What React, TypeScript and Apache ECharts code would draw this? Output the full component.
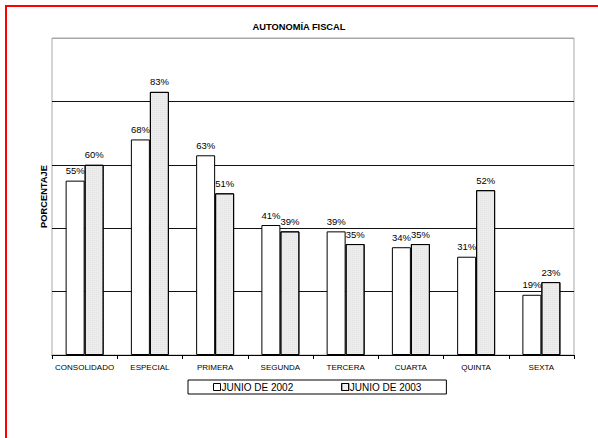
import React, { useEffect, useRef } from "react";
import * as echarts from "echarts";

const categories = ["CONSOLIDADO", "ESPECIAL", "PRIMERA", "SEGUNDA", "TERCERA", "CUARTA", "QUINTA", "SEXTA"];
const junio2002 = [55, 68, 63, 41, 39, 34, 31, 19];
const junio2003 = [60, 83, 51, 39, 35, 35, 52, 23];
const seriesNames = ["JUNIO DE 2002", "JUNIO DE 2003"];

const FONT = "'Liberation Sans', Arial, sans-serif";

export default function App() {
  const ref = useRef<HTMLDivElement>(null);
  useEffect(() => {
    if (!ref.current) return;
    const chart = echarts.init(ref.current, undefined, { renderer: "svg" });
    const labelCfg = {
      show: true,
      position: "top",
      distance: 5,
      formatter: "{c}%",
      fontSize: 9.5,
      color: "#000",
      fontFamily: FONT,
    };
    chart.setOption({
      animation: false,
      backgroundColor: "#fff",
      textStyle: { fontFamily: FONT },
      title: {
        text: "AUTONOMÍA FISCAL",
        left: "center",
        top: 22,
        padding: 0,
        textStyle: { fontSize: 9.3, fontWeight: "bold", color: "#000", fontFamily: FONT },
      },
      legend: {
        left: 188,
        top: 380,
        padding: [2, 25, 2, 25],
        borderColor: "#000",
        borderWidth: 1,
        itemWidth: 7,
        itemHeight: 7,
        itemGap: 48,
        textStyle: { fontSize: 10, color: "#000", fontFamily: FONT, padding: [0, 0, 0, -4] },
        data: [
          { name: seriesNames[0], icon: "rect", itemStyle: { color: "#fff", borderColor: "#000", borderWidth: 1 } },
          { name: seriesNames[1], icon: "rect", itemStyle: { color: "#f4f4f4", borderColor: "#000", borderWidth: 1 } },
        ],
      },
      grid: {
        left: 52,
        right: 24,
        top: 38,
        bottom: 83,
        show: true,
        borderColor: "#a8a8a8",
        borderWidth: 1,
        backgroundColor: "transparent",
      },
      xAxis: {
        type: "category",
        data: categories,
        axisLine: { show: true, lineStyle: { color: "#000", width: 1 } },
        axisTick: { show: true, alignWithLabel: false, length: 4, lineStyle: { color: "#000" } },
        axisLabel: { fontSize: 8, color: "#000", margin: 8, fontFamily: FONT, interval: 0 },
        z: 5,
      },
      yAxis: {
        type: "value",
        min: 0,
        max: 100,
        interval: 20,
        name: "PORCENTAJE",
        nameLocation: "middle",
        nameGap: 4,
        nameTextStyle: { fontSize: 9.3, fontWeight: "bold", color: "#000", fontFamily: FONT },
        axisLine: { show: false },
        axisTick: { show: false },
        axisLabel: { show: false },
        splitLine: {
          show: true,
          lineStyle: { color: ["#000", "#111", "#111", "#111", "#111", "#a8a8a8"], width: 1 },
        },
      },
      series: [
        {
          name: seriesNames[0],
          type: "bar",
          data: junio2002,
          barWidth: 19,
          barGap: "0%",
          itemStyle: { color: "#fff", borderColor: "#000", borderWidth: 1 },
          label: labelCfg,
        },
        {
          name: seriesNames[1],
          type: "bar",
          data: junio2003,
          barWidth: 19,
          barGap: "0%",
          itemStyle: {
            color: "#ececec",
            borderColor: "#000",
            borderWidth: 1,
            decal: {
              symbol: "rect",
              symbolSize: 0.6,
              color: "#cfcfcf",
              dashArrayX: [1, 1],
              dashArrayY: [1, 1],
              rotation: 0,
            },
          },
          label: labelCfg,
        },
      ],
      graphic: [
        { type: "line", shape: { x1: 5, y1: 6, x2: 598, y2: 6 }, style: { stroke: "#ff0000", lineWidth: 2 } },
        { type: "line", shape: { x1: 6, y1: 5, x2: 6, y2: 438 }, style: { stroke: "#ff0000", lineWidth: 2 } },
      ],
    });
    return () => chart.dispose();
  }, []);
  return (
    <div
      ref={ref}
      style={{ position: "absolute", left: 0, top: 0, width: 598, height: 438 }}
    />
  );
}
